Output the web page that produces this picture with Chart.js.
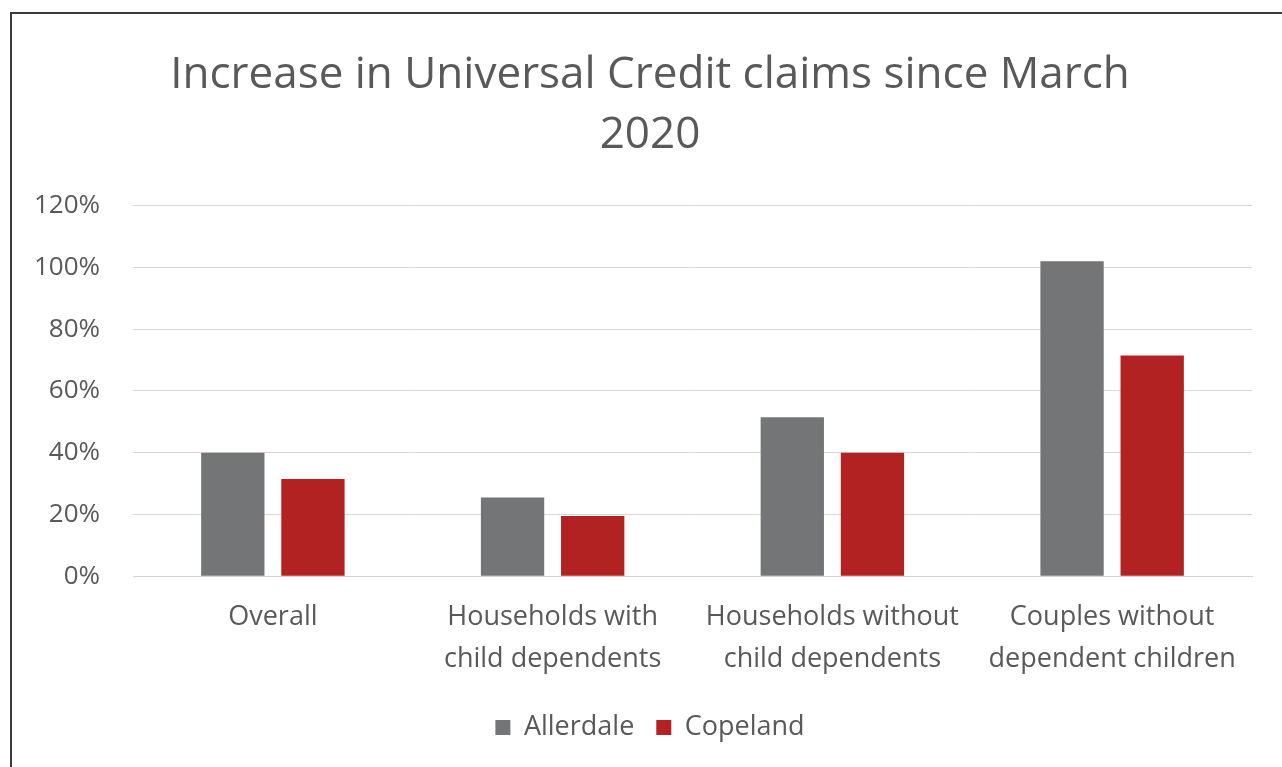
<!DOCTYPE html>
<html>
<head>
<meta charset="utf-8">
<script src="https://cdn.jsdelivr.net/npm/chart.js@4"></script>
<style>
  html, body { margin: 0; padding: 0; background: #fff; }
  #frame {
    position: absolute; left: 10px; top: 12px; width: 1300px; height: 800px;
    border-left: 2px solid #3a3a3a; border-top: 2px solid #3a3a3a;
  }
  #wrap { position: absolute; left: 0; top: 0; width: 1282px; height: 767px; }
</style>
</head>
<body>
<div id="frame"></div>
<div id="wrap"><canvas id="ucChart"></canvas></div>
<script>
// chart data
var categories = [
  'Overall',
  ['Households with', 'child dependents'],
  ['Households without', 'child dependents'],
  ['Couples without', 'dependent children']
];
var allerdale = [40, 25.5, 51.5, 102];
var copeland = [31.5, 19.5, 40, 71.5];
var yTicks = [0, 20, 40, 60, 80, 100, 120];

const ctx = document.getElementById('ucChart');

new Chart(ctx, {
  type: 'bar',
  data: {
    labels: categories,
    datasets: [{
      label: 'Allerdale',
      data: allerdale,
      backgroundColor: '#737577',
      categoryPercentage: 0.573,
      barPercentage: 0.79
    }, {
      label: 'Copeland',
      data: copeland,
      backgroundColor: '#b22222',
      categoryPercentage: 0.573,
      barPercentage: 0.79
    }]
  },
  options: {
    responsive: true,
    maintainAspectRatio: false,
    animation: false,
    layout: { padding: { left: 20, right: 2, top: 20, bottom: 16 } },
    plugins: {
      title: {
        display: true,
        text: ['Increase in Universal Credit claims since March', '2020'],
        color: '#595959',
        font: { family: 'Open Sans', size: 44, weight: 'normal', lineHeight: 1.36 },
        padding: { top: 26, bottom: 40 }
      },
      legend: {
        position: 'bottom',
        labels: {
          color: '#595959',
          font: { family: 'Open Sans', size: 27 },
          boxWidth: 15,
          boxHeight: 15,
          padding: 22
        }
      },
      tooltip: { enabled: false }
    },
    scales: {
      x: {
        grid: { display: false },
        border: { color: '#d9cfcf', width: 1 },
        ticks: {
          color: '#595959',
          font: { family: 'Open Sans', size: 27, lineHeight: 1.55 },
          maxRotation: 0,
          autoSkip: false,
          padding: 12
        }
      },
      y: {
        min: 0,
        max: 120,
        afterBuildTicks: function(axis) {
          axis.ticks = yTicks.map(function(v) { return { value: v }; });
        },
        afterFit: function(axis) { axis.width = 113; },
        grid: { color: '#e3d4d4', drawTicks: false },
        border: { display: false },
        ticks: {
          color: '#595959',
          font: { family: 'Open Sans', size: 26 },
          padding: 33,
          callback: function(v) { return v + '%'; }
        }
      },
      // empty right-hand spacer so the title centres like the original
      yRight: {
        position: 'right',
        grid: { display: false },
        border: { display: false },
        ticks: { display: false },
        afterFit: function(axis) { axis.width = 28; }
      }
    }
  }
});
</script>
</body>
</html>
